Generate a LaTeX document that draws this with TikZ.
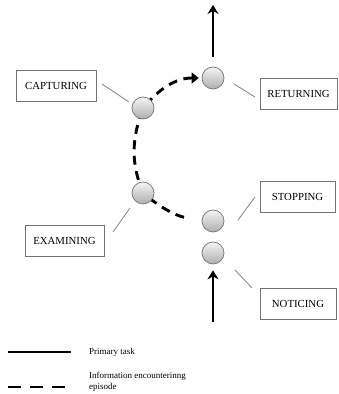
\documentclass[tikz,border=0pt]{standalone}
\usepackage{fontspec}
\setmainfont{Liberation Serif}
\usetikzlibrary{arrows.meta,backgrounds}
\begin{document}
\begin{tikzpicture}[x=1pt,y=1pt,
  state/.style={circle, draw=black!55, line width=0.7pt, minimum size=22pt, inner sep=0pt, top color=black!4, bottom color=black!32},
  phase/.style={draw=black!55, line width=0.8pt, minimum height=31pt, inner sep=0pt, font=\fontsize{10.8}{13}\selectfont},
  link/.style={draw=black!45, line width=0.9pt},
  task/.style={line width=2.4pt, -{Stealth[length=9pt,width=11pt,inset=3pt]}},
  episode/.style={line width=2.9pt, dash pattern=on 9pt off 6.5pt},
  legendtext/.style={font=\fontsize{9}{11}\selectfont, align=left, anchor=west, inner sep=0pt}
]
\useasboundingbox (0,0) rectangle (338,394);

% states
\node[state] (ret) at (213,316) {};
\node[state] (cap) at (143,286) {};
\node[state] (exam) at (143,201) {};
\node[state] (stop) at (213,173) {};
\node[state] (notice) at (213,141) {};

% phase labels
\node[phase, minimum width=80pt] (capbox) at (56,308.5) {CAPTURING};
\node[phase, minimum width=77pt] (retbox) at (298.5,300.5) {RETURNING};
\node[phase, minimum width=75pt] (stopbox) at (297.5,197) {STOPPING};
\node[phase, minimum width=79pt] (exambox) at (64.5,153) {EXAMINING};
\node[phase, minimum width=76pt] (noticebox) at (298,90.5) {NOTICING};

% link ends
\coordinate (c1) at (102,310); \coordinate (c2) at (129,292);
\coordinate (r1) at (234,310); \coordinate (r2) at (255,297);
\coordinate (s1) at (238,174); \coordinate (s2) at (255,197);
\coordinate (e1) at (113,162); \coordinate (e2) at (130,186);
\coordinate (n1) at (235,124); \coordinate (n2) at (252,106);
\draw[link] (c1) -- (c2);
\draw[link] (r1) -- (r2);
\draw[link] (s1) -- (s2);
\draw[link] (e1) -- (e2);
\draw[link] (n1) -- (n2);

% primary task
\coordinate (top) at (213,389);
\coordinate (bottom) at (213,72);
\draw[task, shorten <=10pt] (ret.north) -- (top);
\draw[task, shorten >=6pt] (bottom) -- (notice.south);

% information encountering episode
\begin{pgfonlayer}{background}
\draw[episode, -{Triangle[length=7pt,width=11pt]}, shorten >=3pt, shorten <=18pt]
  (stop.west) to[out=168, in=-40] (exam.center)
  to[out=112, in=-110] (cap.center)
  to[out=50, in=180] (ret.west);
\end{pgfonlayer}

% legend
\coordinate (l1a) at (8,42); \coordinate (l1b) at (71,42);
\coordinate (l2a) at (8,7); \coordinate (l2b) at (71,7);
\draw[line width=2.6pt] (l1a) -- (l1b);
\draw[line width=2.6pt, dash pattern=on 13pt off 9pt] (l2a) -- (l2b);
\node[legendtext] (lt1) at (89,42) {Primary task};
\node[legendtext] (lt2) at (89,12.5) {Information encounterinng\\episode};
\end{tikzpicture}
\end{document}
